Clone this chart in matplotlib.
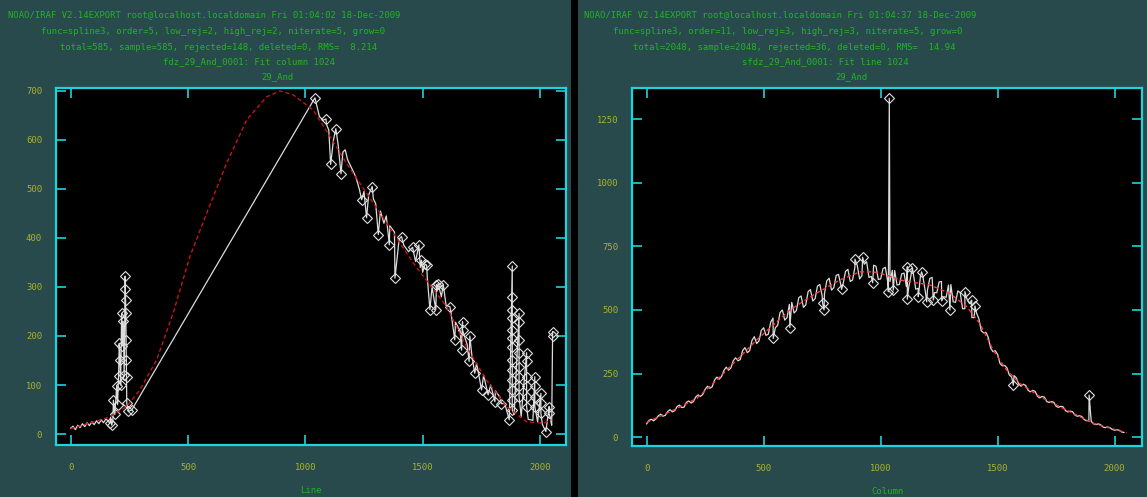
import numpy as np
import matplotlib
matplotlib.use('Agg')
import matplotlib.pyplot as plt
from matplotlib.patches import Rectangle

# ---- left panel: fit column 1024 (x = Line) ----
left_x = [0, 10, 20, 30, 40, 50, 60, 70, 80, 90, 100, 110, 120, 130, 140, 150, 160, 170, 180,
          1060, 1075, 1090, 1100, 1120, 1140, 1160, 1170, 1180, 1200, 1215, 1230, 1250, 1270, 1290,
          1300, 1320, 1335, 1345, 1360, 1380, 1400, 1420, 1440, 1470, 1490, 1500, 1520, 1540, 1560,
          1580, 1600, 1620, 1640, 1660, 1690, 1710, 1730, 1760, 1790, 1810, 1830, 1850, 1870, 1890,
          1920, 1950, 1970, 1990, 2010, 2030, 2045, 2050]
left_y = [12, 16, 9, 18, 13, 21, 15, 23, 17, 25, 19, 27, 21, 29, 23, 31, 26, 34, 30,
          648, 640, 632, 620, 600, 590, 575, 580, 560, 540, 525, 500, 495, 488, 480,
          470, 455, 430, 445, 425, 412, 398, 385, 372, 352, 340, 330, 318, 300, 290,
          280, 262, 250, 228, 210, 182, 160, 145, 120, 100, 88, 75, 62, 45, 40,
          36, 30, 28, 25, 20, 22, 30, 18]
left_rej_x = [167, 175, 182, 188, 196, 200, 204, 207, 210, 213, 217, 220, 224, 228,
              232, 233, 234, 235, 236, 237, 238, 239, 246, 260,
              1041, 1088, 1108, 1130, 1152, 1240, 1261, 1285, 1311, 1358, 1382, 1410, 1457,
              1484, 1495, 1510, 1517, 1531, 1556, 1559, 1566, 1588, 1616, 1637, 1666, 1670,
              1670, 1698, 1701, 1722, 1751, 1779, 1808, 1836, 1869,
              1882, 1882, 1882, 1882, 1882, 1882, 1882, 1882, 1882, 1882, 1882, 1882, 1882,
              1911, 1911, 1911, 1911, 1911, 1911, 1911, 1911,
              1943, 1943, 1943, 1943, 1943, 1943,
              1978, 1978, 1978, 1978,
              2004, 2004, 2004, 2025, 2039, 2039, 2054, 2054]
left_rej_y = [22, 18, 69, 40, 97, 60, 118, 185, 151, 100, 246, 180, 230, 120,
              322, 295, 273, 247, 192, 151, 117, 63, 46, 49,
              686, 643, 550, 623, 531, 478, 441, 505, 407, 386, 318, 403, 381,
              386, 355, 346, 345, 254, 254, 305, 307, 305, 260, 192, 171, 229,
              212, 148, 200, 124, 90, 80, 66, 62, 29,
              343, 280, 253, 236, 212, 195, 178, 151, 131, 110, 90, 69, 49,
              246, 229, 192, 165, 137, 117, 97, 76,
              166, 148, 117, 97, 76, 56,
              117, 97, 76, 56,
              83, 63, 42, 5, 56, 42, 199, 209]
left_fit_x = [0, 168, 238, 295, 366, 437, 508, 580, 665, 750, 835, 892, 948, 1034, 1105,
              1176, 1318, 1460, 1602, 1687, 1772, 1858, 1943, 2014, 2049]
left_fit_y = [11, 35, 56, 90, 151, 247, 362, 451, 553, 641, 688, 700, 692, 661, 607,
              552, 451, 349, 260, 178, 110, 56, 25, 22, 29]

# ---- right panel: fit line 1024 (x = Column) ----
right_x = [0, 20, 40, 60, 80, 100, 120, 140, 160, 180, 200, 220, 240, 260, 280, 300, 320, 340,
           360, 380, 400, 420, 440, 460, 480, 500, 520, 540, 560, 580, 600, 620, 640, 660, 680,
           700, 720, 740, 760, 780, 800, 820, 840, 860, 880, 900, 920, 940, 960, 980, 1000,
           1020, 1040, 1060, 1080, 1100, 1120, 1140, 1160, 1180, 1200, 1220, 1240, 1260, 1280,
           1300, 1320, 1340, 1360, 1380, 1400, 1420, 1440, 1460, 1480, 1500, 1520, 1540, 1560,
           1580, 1600, 1620, 1640, 1660, 1680, 1700, 1720, 1740, 1760, 1780, 1800, 1820, 1840,
           1860, 1880, 1900, 1920, 1940, 1960, 1980, 2000, 2020, 2040]
right_y = [52, 70, 72, 90, 86, 108, 104, 126, 118, 142, 140, 166, 168, 200, 198, 236, 238, 275,
           272, 312, 305, 352, 340, 395, 378, 430, 405, 468, 440, 500, 470, 530, 498, 555, 520,
           580, 545, 600, 565, 625, 588, 640, 605, 660, 618, 675, 635, 690, 632, 672, 622,
           668, 612, 655, 600, 645, 590, 640, 585, 635, 578, 628, 568, 612, 550,
           600, 530, 568, 505, 525, 470, 465, 410, 392, 336, 325, 280, 272, 236,
           233, 200, 203, 178, 180, 154, 157, 136, 137, 117, 119, 99, 100, 82,
           81, 64, 62, 49, 49, 37, 37, 27, 27, 18]
right_x2 = [10, 30, 50, 70, 90, 110, 130, 150, 170, 190, 210, 230, 250, 270, 290, 310, 330, 350,
            370, 390, 410, 430, 450, 470, 490, 510, 530, 550, 570, 590, 610, 630, 650, 670, 690,
            710, 730, 750, 770, 790, 810, 830, 850, 870, 890, 910, 930, 950, 970, 990, 1010,
            1030, 1050, 1070, 1090, 1110, 1130, 1150, 1170, 1190, 1210, 1230, 1250, 1270, 1290,
            1310, 1330, 1350, 1370, 1390, 1410, 1430, 1450, 1470, 1490, 1510, 1530, 1550, 1570,
            1590, 1610, 1630, 1650, 1670, 1690, 1710, 1730, 1750, 1770, 1790, 1810, 1830, 1850,
            1870, 1890, 1910, 1930, 1950, 1970, 1990, 2010, 2030]
right_y2 = [66, 64, 84, 82, 101, 99, 120, 116, 137, 134, 158, 160, 188, 192, 224, 228, 262, 263,
            300, 300, 340, 332, 380, 368, 420, 400, 452, 430, 490, 460, 522, 488, 548, 510, 572,
            535, 594, 556, 615, 578, 636, 598, 652, 612, 668, 622, 680, 628, 676, 620, 662,
            612, 656, 598, 642, 592, 638, 582, 632, 578, 624, 568, 610, 552, 598,
            532, 575, 505, 540, 470, 488, 418, 412, 350, 340, 290, 282, 244, 242,
            209, 208, 184, 184, 161, 160, 140, 140, 121, 121, 104, 102, 87, 84,
            69, 66, 52, 52, 40, 40, 30, 29, 20]
right_rej_x = [541, 612, 752, 758, 833, 890, 923, 966, 1033, 1037, 1054, 1114, 1114, 1136,
               1161, 1175, 1197, 1225, 1261, 1296, 1360, 1389, 1403, 1567, 1891]
right_rej_y = [388, 431, 526, 500, 581, 700, 707, 607, 572, 1332, 578, 670, 542, 664,
               552, 650, 532, 539, 536, 500, 572, 539, 516, 204, 165]
right_fit_x = [0, 114, 214, 299, 385, 470, 541, 612, 712, 826, 912, 968, 1026, 1082, 1211,
               1296, 1368, 1424, 1481, 1538, 1595, 1681, 1795, 1909, 2051]
right_fit_y = [58, 106, 152, 224, 303, 382, 441, 500, 559, 618, 650, 650, 637, 618, 598,
               565, 513, 447, 342, 264, 211, 159, 106, 54, 17]

BG = '#294a4c'
CYAN = '#1fd3dc'
TICKC = '#aab32a'
TITLEC = '#22b422'
W, H = 1147, 497

plt.rcParams['font.family'] = 'DejaVu Sans Mono'
fig = plt.figure(figsize=(W / 100, H / 100), dpi=100, facecolor=BG)
fig.patches.append(Rectangle((571 / W, 0), 7 / W, 1, transform=fig.transFigure,
                             facecolor='black', edgecolor='none'))


def panel(rect, dx, dy, rx, ry, fx, fy, fitcolor, xlim, ylim, yticks, xlabel):
    ax = fig.add_axes(rect)
    ax.set_facecolor('black')
    # merge samples and rejected points in x order for the data line
    allx = np.array(dx + rx)
    ally = np.array(dy + ry)
    order = np.argsort(allx, kind='stable')
    ax.plot(allx[order], ally[order], color='#dcdcdc', lw=0.9)
    ax.plot(rx, ry, ls='none', marker='D', ms=4.8, mfc='none', mec='#e0e0e0', mew=0.8)
    ax.plot(fx, fy, color=fitcolor, lw=1.0, ls=(0, (3, 2)))
    ax.set_xlim(*xlim)
    ax.set_ylim(*ylim)
    ax.set_xticks([0, 500, 1000, 1500, 2000])
    ax.set_yticks(yticks)
    ax.tick_params(direction='in', length=7.5, width=1.2, color=CYAN, labelcolor=TICKC,
                   labelsize=6.4, top=True, right=True)
    ax.tick_params(axis='x', pad=13)
    ax.tick_params(axis='y', pad=10)
    for s in ax.spines.values():
        s.set_color(CYAN)
        s.set_linewidth(1.6)
    ax.set_xlabel(xlabel, color=TITLEC, fontsize=6.4, labelpad=10)
    return ax


panel([56 / W, 1 - 445 / H, 510 / W, 357 / H], left_x, left_y, left_rej_x, left_rej_y,
      left_fit_x, left_fit_y, '#c81414', (-62.6, 2111), (-22.4, 706),
      [0, 100, 200, 300, 400, 500, 600, 700], 'Line')
panel([632 / W, 1 - 446 / H, 510 / W, 358 / H], right_x + right_x2, right_y + right_y2,
      right_rej_x, right_rej_y, right_fit_x, right_fit_y, '#ff3a3a',
      (-62.7, 2117), (-35, 1373), [0, 250, 500, 750, 1000, 1250], 'Column')

left_title = ['NOAO/IRAF V2.14EXPORT root@localhost.localdomain Fri 01:04:02 18-Dec-2009',
              'func=spline3, order=5, low_rej=2, high_rej=2, niterate=5, grow=0',
              'total=585, sample=585, rejected=148, deleted=0, RMS=  8.214',
              'fdz_29_And_0001: Fit column 1024',
              '29_And']
right_title = ['NOAO/IRAF V2.14EXPORT root@localhost.localdomain Fri 01:04:37 18-Dec-2009',
               'func=spline3, order=11, low_rej=3, high_rej=3, niterate=5, grow=0',
               'total=2048, sample=2048, rejected=36, deleted=0, RMS=  14.94',
               'sfdz_29_And_0001: Fit line 1024',
               '29_And']
title_y = [15, 31, 47, 62, 77]
left_cx = [204, 213, 219, 249, 278]
right_cx = [780, 788, 794, 825, 852]
for t, y, cx in zip(left_title, title_y, left_cx):
    fig.text(cx / W, 1 - y / H, t, color=TITLEC, fontsize=6.4, ha='center', va='center')
for t, y, cx in zip(right_title, title_y, right_cx):
    fig.text(cx / W, 1 - y / H, t, color=TITLEC, fontsize=6.4, ha='center', va='center')

fig.savefig('out.png', dpi=100, facecolor=BG)
